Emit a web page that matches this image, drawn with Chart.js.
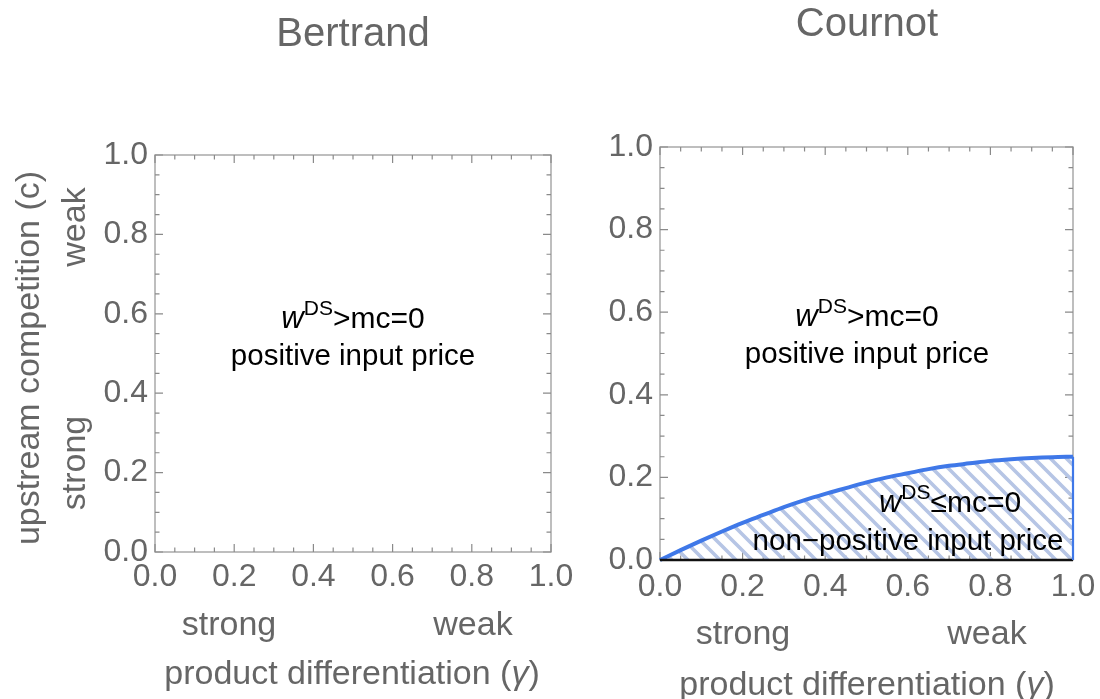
<!DOCTYPE html>
<html><head><meta charset="utf-8">
<script src="https://cdn.jsdelivr.net/npm/chart.js@4.4.1/dist/chart.umd.min.js"></script>
<style>
html,body{margin:0;padding:0;background:#fff;}
#wrap{position:relative;width:1100px;height:699px;overflow:hidden;}
canvas{position:absolute;top:0;}
#cA{left:0;} #cB{left:560px;}
</style></head><body>
<div id="wrap"><canvas id="cA" width="600" height="699"></canvas><canvas id="cB" width="540" height="699"></canvas></div>
<script>
// ---- data ----
const panelTitles = ['Bertrand', 'Cournot'];
const tickValues = [0, 0.2, 0.4, 0.6, 0.8, 1.0];
const minorTickValues = [0,0.05,0.1,0.15,0.2,0.25,0.3,0.35,0.4,0.45,0.5,0.55,0.6,0.65,0.7,0.75,0.8,0.85,0.9,0.95,1.0];
const gamma = [0,0.05,0.1,0.15,0.2,0.25,0.3,0.35,0.4,0.45,0.5,0.55,0.6,0.65,0.7,0.75,0.8,0.85,0.9,0.95,1.0];
const cournotBoundary = [0,0.024,0.047,0.069,0.09,0.109,0.128,0.145,0.16,0.174,0.188,0.2,0.21,0.22,0.228,0.234,0.24,0.244,0.247,0.249,0.25];
const xAxisTitle = ['product differentiation (', 'γ', ')'];
const yAxisTitle = 'upstream competition (c)';
const axisEnds = ['strong', 'weak'];
const regionAbove = ['w', 'DS', '>mc=0', 'positive input price'];
const regionBelow = ['w', 'DS', '≤mc=0', 'non\u2212positive input price'];

// ---- styling ----
const FAM = "'Liberation Sans', Arial, sans-serif";
const GRAY = '#666666';
const BLUE = '#3f78e8';
Chart.defaults.font.family = FAM;

function makeHatch(){
  const s = 16, c = document.createElement('canvas');
  c.width = s; c.height = s;
  const g = c.getContext('2d');
  g.strokeStyle = '#b6c5e5'; g.lineWidth = 3.6; g.lineCap='square';
  g.beginPath();
  for (let k = -1; k <= 1; k++){ g.moveTo(k*s, 0); g.lineTo(k*s + s, s); }
  g.stroke();
  return document.createElement('canvas').getContext('2d').createPattern(c, 'repeat');
}

const framePlugin = {
  id: 'frame',
  beforeDatasetsDraw(chart){
    const {ctx, chartArea: a, scales: {x, y}} = chart;
    ctx.save();
    ctx.strokeStyle = '#a3a3a3'; ctx.lineWidth = 1.4;
    ctx.strokeRect(a.left, a.top, a.right - a.left, a.bottom - a.top);
    ctx.strokeStyle = '#8a8a8a'; ctx.lineWidth = 1.2;
    ctx.beginPath();
    minorTickValues.forEach(v => {
      const major = tickValues.some(t => Math.abs(t - v) < 1e-9);
      const L = major ? 8 : 4.5;
      const px = x.getPixelForValue(v), py = y.getPixelForValue(v);
      ctx.moveTo(px, a.bottom); ctx.lineTo(px, a.bottom - L);
      ctx.moveTo(px, a.top); ctx.lineTo(px, a.top + L);
      ctx.moveTo(a.left, py); ctx.lineTo(a.left + L, py);
      ctx.moveTo(a.right, py); ctx.lineTo(a.right - L, py);
    });
    ctx.stroke();
    ctx.restore();
  }
};

function rich(ctx, parts, cx, by){
  let w = 0;
  parts.forEach(p => { ctx.font = p.f; p.w = ctx.measureText(p.t).width; w += p.w; });
  let x = cx - w/2;
  ctx.textAlign = 'left'; ctx.textBaseline = 'alphabetic';
  parts.forEach(p => { ctx.font = p.f; ctx.fillText(p.t, x, by + (p.dy || 0)); x += p.w; });
}
function rot(ctx, t, cx, cy, font){
  ctx.save(); ctx.translate(cx, cy); ctx.rotate(-Math.PI/2);
  ctx.font = font; ctx.textAlign = 'center'; ctx.textBaseline = 'middle';
  ctx.fillText(t, 0, 0); ctx.restore();
}
function regionLabel(ctx, lab, cx, by1, cx2, by2){
  ctx.fillStyle = '#000';
  rich(ctx, [
    {t: lab[0], f: `italic 31px ${FAM}`},
    {t: lab[1], f: `21px ${FAM}`, dy: -13},
    {t: lab[2], f: `30px ${FAM}`}
  ], cx, by1);
  rich(ctx, [{t: lab[3], f: `29.5px ${FAM}`}], cx2, by2);
}

const LBL = `34px ${FAM}`;
function textPlugin(idx, off, pos){
  return {
    id: 'texts' + idx,
    afterDraw(chart){
      const ctx = chart.ctx;
      ctx.save(); ctx.translate(-off, 0);
      ctx.fillStyle = GRAY;
      ctx.font = `40px ${FAM}`; ctx.textAlign = 'center'; ctx.textBaseline = 'middle';
      ctx.fillText(panelTitles[idx], pos.title[0], pos.title[1]);
      ctx.font = LBL;
      ctx.fillText(axisEnds[0], pos.strong[0], pos.strong[1]);
      ctx.fillText(axisEnds[1], pos.weak[0], pos.weak[1]);
      rich(ctx, [
        {t: xAxisTitle[0], f: LBL},
        {t: xAxisTitle[1], f: `italic 34px ${FAM}`},
        {t: xAxisTitle[2], f: LBL}
      ], pos.xt[0], pos.xt[1]);
      if (pos.yt){
        rot(ctx, yAxisTitle, pos.yt[0], pos.yt[1], LBL);
        rot(ctx, axisEnds[1], pos.yw[0], pos.yw[1], LBL);
        rot(ctx, axisEnds[0], pos.ys[0], pos.ys[1], LBL);
      }
      regionLabel(ctx, regionAbove, pos.above[0], pos.above[1], pos.above[0], pos.above[2]);
      if (pos.below){
        regionLabel(ctx, regionBelow, pos.below[0], pos.below[1], pos.below[2], pos.below[3]);
      }
      ctx.restore();
    }
  };
}

function makeChart(id, datasets, g, plugin){
  return new Chart(document.getElementById(id), {
    type: 'scatter',
    data: {datasets},
    options: {
      responsive: false, animation: false, devicePixelRatio: 1,
      layout: {padding: {left: 0, right: g.padRight, top: g.top, bottom: 0}},
      plugins: {legend: {display: false}, tooltip: {enabled: false}, title: {display: false}},
      elements: {point: {radius: 0}},
      scales: {
        x: {
          type: 'linear', min: 0, max: 1,
          grid: {display: false, drawTicks: false}, border: {display: false},
          afterBuildTicks: s => { s.ticks = tickValues.map(v => ({value: v})); },
          afterFit: s => { s.height = g.xAxisH; s.paddingLeft = 0; s.paddingRight = 0; },
          ticks: {callback: v => Number(v).toFixed(1), color: GRAY, font: {size: 32}, padding: g.xPad, maxRotation: 0, autoSkip: false}
        },
        y: {
          type: 'linear', min: 0, max: 1,
          grid: {display: false, drawTicks: false}, border: {display: false},
          afterBuildTicks: s => { s.ticks = tickValues.map(v => ({value: v})); },
          afterFit: s => { s.width = g.yAxisW; s.paddingTop = 0; s.paddingBottom = 0; },
          ticks: {callback: v => Number(v).toFixed(1), color: GRAY, font: {size: 32}, padding: 7, autoSkip: false}
        }
      }
    },
    plugins: [framePlugin, plugin]
  });
}

// Bertrand: whole region is positive input price
makeChart('cA', [], {yAxisW: 155, padRight: 49, top: 155, xAxisH: 147, xPad: 6},
  textPlugin(0, 0, {
    title: [353, 35], strong: [229, 626], weak: [473, 626], xt: [352, 684],
    yt: [30, 358], yw: [76, 227], ys: [76, 463],
    above: [353, 328, 365]
  }));

// Cournot
const last = gamma.length - 1;
makeChart('cB', [
  {data: gamma.map((g, i) => ({x: g, y: cournotBoundary[i]})), showLine: true, borderColor: BLUE, borderWidth: 4,
   fill: 'origin', backgroundColor: makeHatch(), cubicInterpolationMode: 'monotone', clip: false, order: 1},
  {data: [{x: gamma[last], y: 0}, {x: gamma[last], y: cournotBoundary[last]}], showLine: true, borderColor: BLUE, borderWidth: 2.2, clip: false, order: 0},
  {data: [{x: gamma[0], y: 0}, {x: gamma[last], y: 0}], showLine: true, borderColor: '#111', borderWidth: 2.6, clip: false, order: 0}
], {yAxisW: 100, padRight: 27, top: 147, xAxisH: 139, xPad: 8},
  textPlugin(1, 560, {
    title: [867, 25], strong: [743, 635], weak: [987, 635], xt: [867, 695],
    above: [867, 326, 363],
    below: [950, 512, 908, 550]
  }));
</script>
</body></html>
